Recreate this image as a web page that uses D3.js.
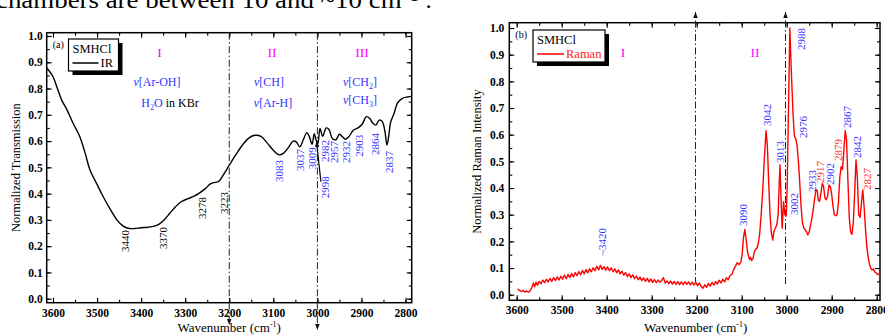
<!DOCTYPE html>
<html lang="en">
<head>
<meta charset="utf-8">
<title>SMHCl IR / Raman</title>
<script src="https://cdn.jsdelivr.net/npm/d3@7/dist/d3.min.js"></script>
<style>
  * { margin: 0; padding: 0; }
  body { background: #fff; overflow: hidden; }
  svg { display: block; font-family: "Liberation Serif", "Times New Roman", serif; }
</style>
</head>
<body>
<svg id="fig" width="885" height="336"></svg>
<script>
const xTickValues = [3600, 3500, 3400, 3300, 3200, 3100, 3000, 2900, 2800]
const yTickValues = [0, 0.1, 0.2, 0.3, 0.4, 0.5, 0.6, 0.7, 0.8, 0.9, 1.0]
const regionLines = [3200, 3000]

// IR transmission, [wavenumber, value]
const irSpectrum = [
  [3614, 0.878], [3600, 0.845], [3590, 0.800], [3580, 0.755], [3568, 0.718],
  [3555, 0.670], [3540, 0.620], [3528, 0.560], [3516, 0.490], [3500, 0.435],
  [3486, 0.388], [3470, 0.340], [3455, 0.300], [3442, 0.278], [3430, 0.268],
  [3415, 0.267], [3400, 0.270], [3385, 0.272], [3370, 0.276], [3360, 0.283],
  [3348, 0.300], [3335, 0.325], [3322, 0.350], [3310, 0.368], [3295, 0.380],
  [3280, 0.390], [3268, 0.402], [3255, 0.418], [3242, 0.438], [3232, 0.443],
  [3224, 0.446], [3212, 0.475], [3200, 0.508], [3185, 0.548], [3170, 0.585],
  [3155, 0.612], [3142, 0.622], [3128, 0.618], [3115, 0.595], [3100, 0.565],
  [3088, 0.548], [3078, 0.552], [3066, 0.575], [3055, 0.600], [3048, 0.597],
  [3040, 0.578], [3032, 0.605], [3024, 0.632], [3018, 0.615], [3012, 0.588],
  [3007, 0.628], [3003, 0.605], [2999, 0.590], [2994, 0.648], [2988, 0.618],
  [2980, 0.650], [2974, 0.645], [2966, 0.610], [2958, 0.605], [2950, 0.626],
  [2944, 0.618], [2936, 0.607], [2928, 0.618], [2918, 0.642], [2908, 0.650],
  [2898, 0.665], [2889, 0.693], [2882, 0.688], [2874, 0.668], [2867, 0.661],
  [2860, 0.680], [2853, 0.675], [2847, 0.640], [2842, 0.585], [2838, 0.620],
  [2834, 0.670], [2826, 0.705], [2818, 0.745], [2808, 0.762], [2795, 0.768],
  [2786, 0.770]
]

// Raman intensity, [wavenumber, value]
const ramanSpectrum = [
  [3598, 0.022], [3594, 0.016], [3590, 0.012], [3586, 0.016], [3582, 0.010],
  [3578, 0.014], [3574, 0.009], [3570, 0.015], [3566, 0.028], [3563, 0.044],
  [3560, 0.030], [3557, 0.047], [3554, 0.036], [3550, 0.050], [3546, 0.041],
  [3542, 0.055], [3538, 0.045], [3534, 0.058], [3530, 0.048], [3526, 0.061],
  [3522, 0.050], [3518, 0.064], [3514, 0.053], [3510, 0.067], [3506, 0.055],
  [3502, 0.069], [3498, 0.058], [3494, 0.073], [3490, 0.060], [3486, 0.076],
  [3482, 0.064], [3478, 0.079], [3474, 0.067], [3470, 0.083], [3466, 0.071],
  [3462, 0.087], [3458, 0.075], [3454, 0.091], [3450, 0.078], [3446, 0.094],
  [3442, 0.082], [3438, 0.097], [3434, 0.086], [3430, 0.101], [3426, 0.090],
  [3422, 0.107], [3418, 0.093], [3414, 0.110], [3410, 0.095], [3406, 0.105],
  [3402, 0.092], [3398, 0.104], [3394, 0.090], [3390, 0.101], [3386, 0.086],
  [3382, 0.097], [3378, 0.082], [3374, 0.093], [3370, 0.078], [3366, 0.088],
  [3362, 0.073], [3358, 0.083], [3354, 0.068], [3350, 0.078], [3346, 0.064],
  [3342, 0.074], [3338, 0.060], [3334, 0.070], [3330, 0.056], [3326, 0.066],
  [3322, 0.053], [3318, 0.063], [3314, 0.050], [3310, 0.061], [3306, 0.048],
  [3302, 0.059], [3298, 0.046], [3294, 0.057], [3290, 0.045], [3286, 0.055],
  [3282, 0.047], [3278, 0.053], [3274, 0.064], [3270, 0.044], [3266, 0.052],
  [3262, 0.041], [3258, 0.051], [3254, 0.040], [3250, 0.050], [3246, 0.039],
  [3242, 0.049], [3238, 0.038], [3234, 0.048], [3230, 0.038], [3226, 0.049],
  [3222, 0.039], [3218, 0.048], [3214, 0.037], [3210, 0.047], [3206, 0.036],
  [3202, 0.046], [3198, 0.034], [3194, 0.044], [3190, 0.031], [3186, 0.024],
  [3182, 0.037], [3178, 0.028], [3174, 0.042], [3170, 0.032], [3166, 0.046],
  [3162, 0.036], [3158, 0.049], [3154, 0.040], [3150, 0.054], [3146, 0.044],
  [3142, 0.058], [3138, 0.048], [3134, 0.064], [3130, 0.056], [3126, 0.072],
  [3122, 0.076], [3118, 0.094], [3114, 0.106], [3110, 0.120], [3106, 0.113],
  [3102, 0.122], [3099, 0.150], [3096, 0.215], [3093, 0.245], [3090, 0.205],
  [3087, 0.160], [3084, 0.140], [3082, 0.132], [3080, 0.140], [3078, 0.128],
  [3075, 0.135], [3072, 0.160], [3069, 0.170], [3066, 0.175], [3063, 0.193],
  [3060, 0.230], [3057, 0.293], [3053, 0.400], [3050, 0.500], [3046, 0.615],
  [3043, 0.560], [3040, 0.420], [3037, 0.300], [3034, 0.230], [3031, 0.205],
  [3028, 0.240], [3025, 0.250], [3022, 0.262], [3019, 0.300], [3017, 0.400],
  [3015, 0.487], [3012, 0.330], [3010, 0.249], [3007, 0.349], [3004, 0.300],
  [3001, 0.295], [2999, 0.400], [2996, 0.700], [2993, 1.000], [2990, 0.850],
  [2986, 0.680], [2983, 0.595], [2980, 0.585], [2977, 0.560], [2974, 0.500],
  [2971, 0.420], [2968, 0.330], [2965, 0.270], [2962, 0.250], [2959, 0.243],
  [2956, 0.236], [2953, 0.224], [2950, 0.235], [2947, 0.262], [2944, 0.285],
  [2941, 0.320], [2938, 0.360], [2935, 0.393], [2932, 0.390], [2930, 0.355],
  [2927, 0.350], [2924, 0.380], [2921, 0.418], [2918, 0.405], [2915, 0.362],
  [2912, 0.356], [2909, 0.370], [2906, 0.411], [2903, 0.405], [2900, 0.375],
  [2897, 0.330], [2894, 0.300], [2891, 0.296], [2888, 0.300], [2885, 0.345],
  [2882, 0.440], [2879, 0.480], [2876, 0.470], [2873, 0.540], [2870, 0.615],
  [2867, 0.580], [2864, 0.430], [2861, 0.290], [2858, 0.235], [2855, 0.226],
  [2852, 0.270], [2849, 0.380], [2846, 0.505], [2843, 0.440], [2840, 0.300],
  [2837, 0.290], [2834, 0.340], [2831, 0.393], [2828, 0.330], [2825, 0.250],
  [2822, 0.180], [2819, 0.140], [2816, 0.115], [2813, 0.098], [2810, 0.093],
  [2807, 0.096], [2804, 0.085], [2801, 0.082], [2798, 0.075], [2795, 0.078],
  [2792, 0.074], [2789, 0.080]
]

// peak labels, [wavenumber, value, text] at the label centre
const irLabelsBlack = [
  [3437, 0.220, '3440'], [3350, 0.231, '3370'], [3262, 0.345, '3278'], [3212, 0.364, '3223']
]
const irLabelsBlue = [
  [3087, 0.486, '3083'], [3039, 0.528, '3037'], [3012, 0.535, '3009'], [2983, 0.424, '2998'],
  [2983, 0.562, '2982'], [2962, 0.558, '2957'], [2934, 0.558, '2932'], [2905, 0.582, '2903'],
  [2870, 0.589, '2864'], [2838, 0.520, '2837']
]
const irArrow = [[2992, 0.445], [3002, 0.600]]

const ramanLabelsBlue = [
  [3411, 0.198, '~3420'], [3098, 0.299, '3090'], [3044, 0.674, '3042'], [3016, 0.535, '3013'],
  [2984, 0.340, '3002'], [2969, 0.959, '2988'], [2963, 0.629, '2976'], [2944, 0.426, '2933'],
  [2904, 0.453, '2902'], [2867, 0.666, '2867'], [2843, 0.554, '2842']
]
const ramanLabelsRed = [
  [2926, 0.460, '2917'], [2885, 0.543, '2879'], [2822, 0.434, '2827']
]

const BLUE = '#3333ff'
const MAGENTA = '#ff00ff'
const RED = '#ff0000'

const svg = d3.select('#fig')
const defs = svg.append('defs')

defs.append('marker')
  .attr('id', 'arrow')
  .attr('viewBox', '0 -4 8 8')
  .attr('refX', 8).attr('refY', 0)
  .attr('markerUnits', 'userSpaceOnUse')
  .attr('markerWidth', 6).attr('markerHeight', 6)
  .attr('orient', 'auto')
  .append('path').attr('d', 'M0,-3L8,0L0,3Z').attr('fill', '#111')

// cut-off line of text from the page above
svg.append('text')
  .attr('x', -4).attr('y', 8)
  .attr('font-size', 24)
  .attr('textLength', 436).attr('lengthAdjust', 'spacingAndGlyphs')
  .text('chambers are between 10 and ~10 cm\u207B\u00B9 .')

function richText(g, x, y, parts, color, size) {
  const t = g.append('text')
    .attr('x', x).attr('y', y)
    .attr('fill', color)
    .attr('text-anchor', 'middle')
    .attr('font-size', size || 12)
  parts.forEach(p => {
    const s = t.append('tspan').text(p.t)
    if (p.i) s.attr('font-style', 'italic')
    if (p.sub) s.attr('font-size', 8).attr('dy', 3)
    if (p.sup) s.attr('font-size', 8).attr('dy', -5)
    if (p.dy) s.attr('dy', p.dy)
    if (p.fill) s.attr('fill', p.fill)
  })
  return t
}

function drawPanel(p) {
  const g = svg.append('g')
  const f = p.frame
  const x = d3.scaleLinear().domain([3600, 2800]).range(p.xr)
  const y = d3.scaleLinear().domain([0, 1]).range(p.yr)

  defs.append('clipPath').attr('id', 'clip-' + p.id)
    .append('rect')
    .attr('x', f.x0).attr('y', f.y0)
    .attr('width', f.x1 - f.x0).attr('height', f.y1 - f.y0)

  const minorX = d3.range(3600, 2799, -50)
  const minorY = d3.range(0, 1.001, 0.05)

  function styleAxis(sel, labels) {
    sel.select('.domain').remove()
    sel.attr('font-family', null)
      .attr('font-size', 11.5)
      .attr('font-weight', 'bold')
    sel.selectAll('line').attr('stroke', '#000').attr('stroke-width', 1.1)
    sel.selectAll('text').attr('fill', '#000')
    if (!labels) sel.selectAll('text').remove()
  }

  // major + minor ticks, inward on all four sides
  g.append('g').attr('transform', `translate(0,${f.y1})`)
    .call(d3.axisBottom(x).tickValues(xTickValues).tickSize(-5).tickPadding(6).tickFormat(d3.format('d')))
    .call(s => styleAxis(s, true))
  g.append('g').attr('transform', `translate(0,${f.y1})`)
    .call(d3.axisBottom(x).tickValues(minorX).tickSize(-3))
    .call(s => styleAxis(s, false))
  g.append('g').attr('transform', `translate(0,${f.y0})`)
    .call(d3.axisTop(x).tickValues(xTickValues).tickSize(-5))
    .call(s => styleAxis(s, false))
  g.append('g').attr('transform', `translate(0,${f.y0})`)
    .call(d3.axisTop(x).tickValues(minorX).tickSize(-3))
    .call(s => styleAxis(s, false))
  g.append('g').attr('transform', `translate(${f.x0},0)`)
    .call(d3.axisLeft(y).tickValues(yTickValues).tickSize(-5).tickPadding(p.yPad).tickFormat(d3.format('.1f')))
    .call(s => styleAxis(s, true))
  g.append('g').attr('transform', `translate(${f.x0},0)`)
    .call(d3.axisLeft(y).tickValues(minorY).tickSize(-3))
    .call(s => styleAxis(s, false))
  g.append('g').attr('transform', `translate(${f.x1},0)`)
    .call(d3.axisRight(y).tickValues(yTickValues).tickSize(-5))
    .call(s => styleAxis(s, false))
  g.append('g').attr('transform', `translate(${f.x1},0)`)
    .call(d3.axisRight(y).tickValues(minorY).tickSize(-3))
    .call(s => styleAxis(s, false))

  g.append('rect')
    .attr('x', f.x0).attr('y', f.y0)
    .attr('width', f.x1 - f.x0).attr('height', f.y1 - f.y0)
    .attr('fill', 'none').attr('stroke', '#000').attr('stroke-width', 1.5)

  // region separators with arrows
  g.selectAll('.region')
    .data(regionLines)
    .join('line')
    .attr('x1', d => x(d) + p.lineNudge).attr('x2', d => x(d) + p.lineNudge)
    .attr('y1', (d, i) => p.lineFrom[i]).attr('y2', (d, i) => p.lineTo[i])
    .attr('stroke', '#222').attr('stroke-width', 1)
    .attr('stroke-dasharray', '7,2.5,1.5,2.5')
    .attr('marker-end', 'url(#arrow)')

  // spectrum
  const line = d3.line()
    .x(d => x(d[0])).y(d => y(d[1]))
    .curve(p.curve)
  g.append('path')
    .datum(p.data)
    .attr('clip-path', `url(#clip-${p.id})`)
    .attr('d', line)
    .attr('fill', 'none')
    .attr('stroke', p.color)
    .attr('stroke-width', 1.4)
    .attr('stroke-linejoin', 'round')

  // peak labels
  p.labels.forEach(set => {
    g.append('g').selectAll('text')
      .data(set.rows)
      .join('text')
      .attr('transform', d => `translate(${x(d[0])},${y(d[1])}) rotate(-90)`)
      .attr('text-anchor', 'middle')
      .attr('dominant-baseline', 'central')
      .attr('font-size', 11)
      .attr('fill', set.color)
      .text(d => d[2])
  })

  // legend with drop shadow
  const L = p.legend
  g.append('rect').attr('x', L.x + 4).attr('y', L.y + 4).attr('width', L.w).attr('height', L.h).attr('fill', '#000')
  g.append('rect').attr('x', L.x).attr('y', L.y).attr('width', L.w).attr('height', L.h)
    .attr('fill', '#fff').attr('stroke', '#000').attr('stroke-width', 1.2)
  g.append('text').attr('x', L.x + 4).attr('y', L.y + 14).attr('font-size', 12.5).text('SMHCl')
  g.append('line')
    .attr('x1', L.x + 4).attr('x2', L.x + L.lineW)
    .attr('y1', L.y + 24).attr('y2', L.y + 24)
    .attr('stroke', p.color).attr('stroke-width', 1.5)
  g.append('text').attr('x', L.x + L.lineW + 2).attr('y', L.y + 28)
    .attr('font-size', 12.5).attr('fill', p.color === '#000' ? '#000' : '#ff2222')
    .text(p.name)

  g.append('text').attr('x', f.x0 + 6).attr('y', f.y0 + 15).attr('font-size', 10).text(p.tag)

  // axis titles
  richText(g, (f.x0 + f.x1) / 2 - p.titleShift, 332, [{ t: 'Wavenumber (cm' }, { t: '-1', sup: true }, { t: ')', dy: 5 }], '#000', 13)
  g.append('text')
    .attr('transform', `translate(${p.yTitleX},${(f.y0 + f.y1) / 2}) rotate(-90)`)
    .attr('text-anchor', 'middle')
    .attr('dominant-baseline', 'central')
    .attr('font-size', 12.5)
    .text(p.yTitle)

  return { g, x, y }
}

const A = drawPanel({
  id: 'a', tag: '(a)', name: 'IR', color: '#000',
  frame: { x0: 46.7, x1: 411.7, y0: 32.7, y1: 302.7 },
  xr: [53, 405.5], yr: [298.7, 36], yPad: 4, lineNudge: 0,
  data: irSpectrum, curve: d3.curveCatmullRom.alpha(0.5),
  lineFrom: [32.7, 32.7], lineTo: [325, 330],
  labels: [{ rows: irLabelsBlack, color: '#000' }, { rows: irLabelsBlue, color: BLUE }],
  legend: { x: 68.5, y: 39, w: 50, h: 32, lineW: 30 },
  yTitle: 'Normalized Transmission', yTitleX: 16, titleShift: 0
})

// arrow pointing at the 2998 feature
A.g.append('line')
  .attr('x1', A.x(irArrow[0][0])).attr('y1', A.y(irArrow[0][1]))
  .attr('x2', A.x(irArrow[1][0])).attr('y2', A.y(irArrow[1][1]))
  .attr('stroke', '#000').attr('stroke-width', 1.2)
  .attr('marker-end', 'url(#arrow)')

// region names for panel (a)
richText(A.g, 159.5, 57, [{ t: 'I' }], MAGENTA, 13.5)
richText(A.g, 272, 57, [{ t: 'II' }], MAGENTA, 13.5)
richText(A.g, 362, 57, [{ t: 'III' }], MAGENTA, 13.5)
richText(A.g, 157, 86, [{ t: 'v', i: true }, { t: '[Ar-OH]' }], BLUE)
richText(A.g, 170, 107, [{ t: 'H' }, { t: '2', sub: true }, { t: 'O', dy: -3 }, { t: ' in KBr', fill: '#000' }], BLUE)
richText(A.g, 269, 86, [{ t: 'v', i: true }, { t: '[CH]' }], BLUE)
richText(A.g, 273, 107, [{ t: 'v', i: true }, { t: '[Ar-H]' }], BLUE)
richText(A.g, 360, 86, [{ t: 'v', i: true }, { t: '[CH' }, { t: '2', sub: true }, { t: ']', dy: -3 }], BLUE)
richText(A.g, 360, 104, [{ t: 'v', i: true }, { t: '[CH' }, { t: '3', sub: true }, { t: ']', dy: -3 }], BLUE)

const B = drawPanel({
  id: 'b', tag: '(b)', name: 'Raman', color: RED,
  frame: { x0: 509.3, x1: 880, y0: 22.7, y1: 300.3 },
  xr: [516.7, 876.7], yr: [294.7, 28], yPad: 5, lineNudge: -1.2,
  data: ramanSpectrum, curve: d3.curveLinear,
  lineFrom: [284, 284], lineTo: [12, 12],
  labels: [{ rows: ramanLabelsBlue, color: BLUE }, { rows: ramanLabelsRed, color: '#ff3030' }],
  legend: { x: 533, y: 30, w: 72, h: 32, lineW: 31 },
  yTitle: 'Normalized Raman Intensity', yTitleX: 477, titleShift: -1
})

richText(B.g, 623, 57, [{ t: 'I' }], MAGENTA, 13.5)
richText(B.g, 755, 57, [{ t: 'II' }], MAGENTA, 13.5)
</script>
</body>
</html>
